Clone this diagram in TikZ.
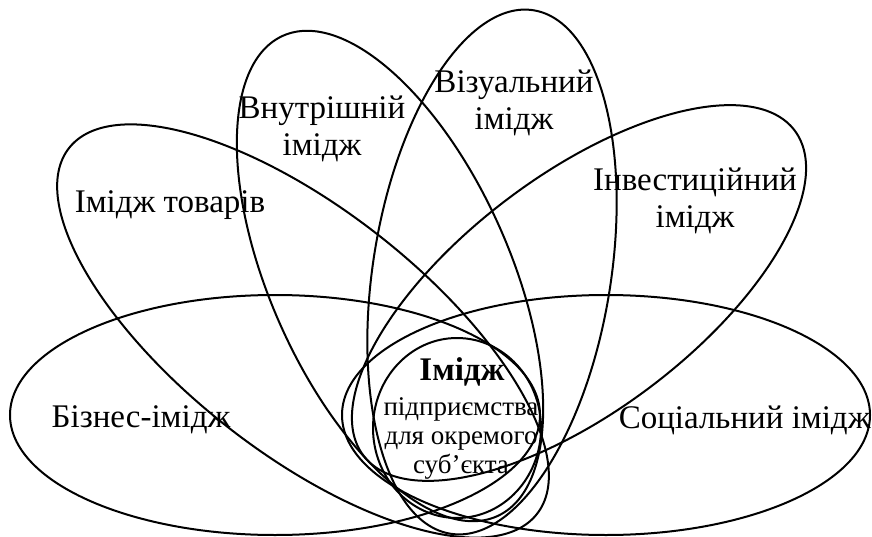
\documentclass[tikz,border=0pt]{standalone}
\usepackage{fontspec}
\setmainfont{Liberation Serif}
\begin{document}
\begin{tikzpicture}[x=0.5pt,y=0.5pt,petal/.style={draw,line width=1pt},
 lbl/.style={align=center,inner sep=0pt,font=\fontsize{16.5}{18.5}\selectfont},
 core/.style={align=center,inner sep=0pt,font=\fontsize{13.5}{14.5}\selectfont}]
\useasboundingbox (0,0) rectangle (872,536);
% petals
\draw[petal] (275,121) ellipse [x radius=265,y radius=120];
\draw[petal] (606,121) ellipse [x radius=264,y radius=120];
\draw[petal,rotate around={-38:(303,205)}] (303,205) ellipse [x radius=297,y radius=122];
\draw[petal,rotate around={-66:(390,260)}] (390,260) ellipse [x radius=263,y radius=120];
\draw[petal,rotate around={81:(492,264)}] (492,264) ellipse [x radius=265,y radius=119];
\draw[petal,rotate around={37:(579,243)}] (579,243) ellipse [x radius=270,y radius=118];
\draw[petal] (457,108) ellipse [x radius=84,y radius=90];
% labels
\node[lbl] (biz) at (141,116) {Бізнес-імідж};
\node[lbl,anchor=east] (soc) at (871,116) {Соціальний імідж};
\node[lbl] (tov) at (170,331) {Імідж товарів};
\node[lbl] (vnu) at (322,407) {Внутрішній\\імідж};
\node[lbl] (viz) at (514,433) {Візуальний\\імідж};
\node[lbl] (inv) at (695,335) {Інвестиційний\\імідж};
\node[lbl,font=\fontsize{16.5}{18.5}\selectfont\bfseries] (im) at (462,164) {Імідж};
\node[core] (pid) at (461,98) {підприємства\\для окремого\\суб’єкта};
\end{tikzpicture}
\end{document}
